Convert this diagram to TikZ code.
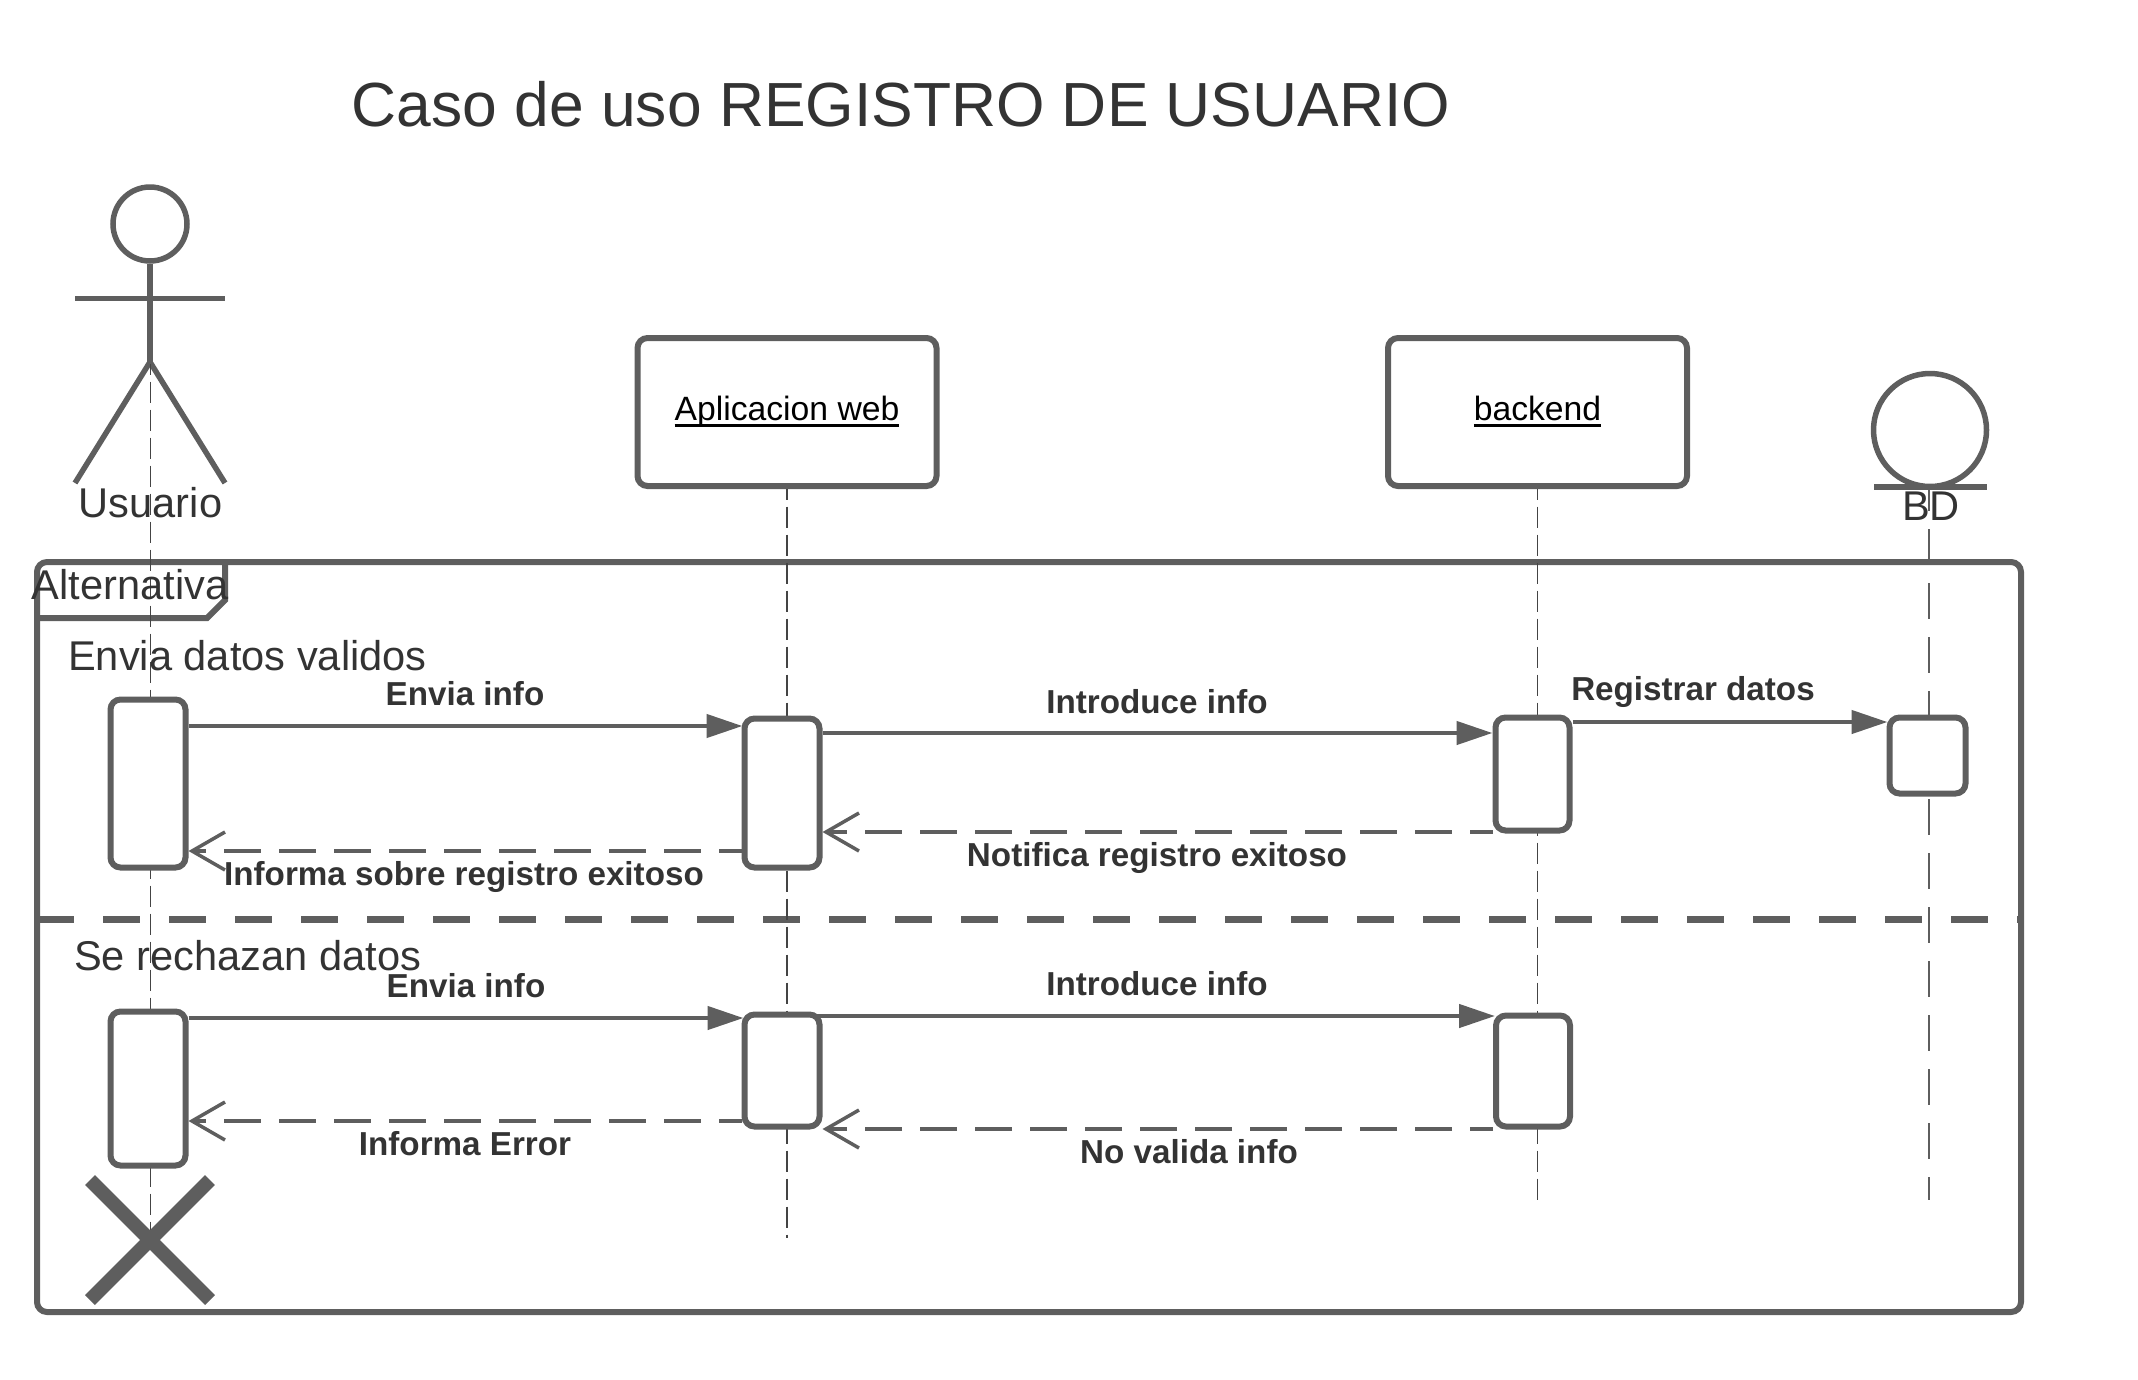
\documentclass[tikz,border=0pt]{standalone}
\usepackage{fontspec}
\setmainfont{Liberation Sans}
\usetikzlibrary{positioning,arrows.meta,calc}
\definecolor{linegray}{HTML}{5E5E5E}
\definecolor{textgray}{HTML}{333333}
\definecolor{lifegray}{HTML}{444444}
\newcommand{\linedtext}[1]{\setbox0=\hbox{#1}\rlap{\rule[-6.5pt]{\wd0}{3pt}}\box0}
\tikzset{
  shape line/.style={draw=linegray, line width=6pt},
  actor line/.style={draw=linegray, line width=5.5pt},
  bar/.style={shape line, fill=white, rectangle, rounded corners=10pt, inner sep=0pt},
  objbox/.style={shape line, rectangle, rounded corners=10pt, inner sep=0pt, minimum width=299pt, minimum height=148pt, text height=25pt, text depth=8pt, font=\fontsize{33.7}{40}\selectfont, text=black},
  lifeline/.style={draw=lifegray, line width=1.1pt, dash pattern=on 21pt off 7pt, dash phase=10.5pt},
  msg/.style={draw=linegray, line width=4.5pt, -{Triangle[length=36pt,width=23pt]}},
  reply/.style={draw=linegray, line width=4.5pt, dash pattern=on 37pt off 18pt, dash phase=14pt, -{Straight Barb[length=33pt,width=38pt,line width=3.5pt]}},
  msgtext/.style={anchor=base, inner sep=0pt, text=textgray, font=\fontsize{33.2}{40}\selectfont\bfseries},
  bigtext/.style={anchor=base, inner sep=0pt, text=textgray, font=\fontsize{41.6}{50}\selectfont},
}
\begin{document}
\begin{tikzpicture}[x=1pt, y=-1pt]
\useasboundingbox (0,0) rectangle (2138,1379);
% ---- title ----
\node[anchor=base west, inner sep=0pt, text=textgray, font=\fontsize{62.35}{70}\selectfont] (title) at (351.5,126) {Caso de uso REGISTRO DE USUARIO};
% ---- frame with its tab and divider ----
\node[shape line, rectangle, rounded corners=10pt, inner sep=0pt, minimum width=1984pt, minimum height=750pt] (alt) at (1029,937) {};
\draw[shape line] (225,562) -- (225,600) -- (207,618) -- (37,618);
\draw[draw=linegray, line width=7pt, dash pattern=on 37pt off 29pt] (37,919) -- (2021,919);
% ---- actor ----
\node[actor line, circle, inner sep=0pt, minimum size=74pt] (head) at (150,224) {};
\coordinate (hip) at (150,362);
\coordinate (cross) at (150.5,1240);
\draw[actor line] (head.south) -- (hip);
\draw[actor line] (75,298.5) -- (225,298.5);
\draw[actor line, line join=round] (75,483) -- (hip) -- (225,483);
% ---- objects ----
\node[objbox] (web) at (787,412) {\linedtext{Aplicacion web}};
\node[objbox] (back) at (1537.5,412) {\linedtext{backend}};
\node[actor line, circle, inner sep=0pt, minimum size=113pt] (ent) at (1930,430) {};
\draw[shape line] (1874,487) -- (1987,487);
% ---- lifelines ----
\coordinate (usertop) at (150.5,364);
\coordinate (webend) at (787,1238);
\coordinate (backend) at (1537.5,1200);
\coordinate (entstart) at (1929,490);
\coordinate (entend) at (1929,1200);
\draw[lifeline] (usertop) -- (cross);
\draw[lifeline] (web.south) -- (webend);
\draw[lifeline] (back.south) -- (backend);
\draw[draw=linegray, line width=2.6pt, dash pattern=on 36pt off 18pt, dash phase=15pt] (entstart) -- (entend);
% ---- activation bars ----
\node[bar, minimum width=75pt, minimum height=168pt] (actA) at (148,783.5) {};
\node[bar, minimum width=75pt, minimum height=149pt] (actB) at (782,793) {};
\node[bar, minimum width=74pt, minimum height=113pt] (actC) at (1532.5,774) {};
\node[bar, minimum width=76pt, minimum height=76pt] (actD) at (1927.5,755.5) {};
\node[bar, minimum width=75pt, minimum height=154pt] (actE) at (148,1088.5) {};
\node[bar, minimum width=75pt, minimum height=112pt] (actF) at (782,1070.5) {};
\node[bar, minimum width=74pt, minimum height=111pt] (actG) at (1533,1071) {};
% destroy mark
\draw[draw=linegray, line width=14pt] (90,1180) -- (210,1300);
\draw[draw=linegray, line width=14pt] (210,1180) -- (90,1300);
% ---- valid data messages ----
\draw[msg, shorten >=-1pt] (actA.east |- 0,726) -- (actB.west |- 0,726);
\draw[msg] (actB.east |- 0,733) -- (actC.west |- 0,733);
\draw[msg, shorten >=-1pt] (actC.east |- 0,722) -- (actD.west |- 0,722);
\draw[reply] (actC.west |- 0,832) -- (actB.east |- 0,832);
\draw[reply] (actB.west |- 0,851) -- (actA.east |- 0,851);
% ---- rejected data messages ----
\draw[msg, shorten >=-2pt] (actE.east |- 0,1018) -- (actF.west |- 0,1018);
\draw[msg, shorten <=33pt, shorten >=-2pt] (actF.center |- 0,1016) -- (actG.west |- 0,1016);
\draw[reply] (actG.west |- 0,1129) -- (actF.east |- 0,1129);
\draw[reply] (actF.west |- 0,1121) -- (actE.east |- 0,1121);
% ---- texts ----
\node[bigtext] (usuario) at (150.5,517) {Usuario};
\node[bigtext] (bd) at (1931,520) {BD};
\node[bigtext] (alttext) at (130,599) {Alternativa};
\node[bigtext, anchor=base west] (validos) at (68,670) {Envia datos validos};
\node[bigtext, anchor=base west] (rechazo) at (74,970) {Se rechazan datos};
\node[msgtext] (infoA) at (465,705) {Envia info};
\node[msgtext] (introA) at (1157,713) {Introduce info};
\node[msgtext] (regis) at (1693,700) {Registrar datos};
\node[msgtext] (notif) at (1157,866) {Notifica registro exitoso};
\node[msgtext] (exito) at (464,885) {Informa sobre registro exitoso};
\node[msgtext] (infoB) at (466,997) {Envia info};
\node[msgtext] (introB) at (1157,995) {Introduce info};
\node[msgtext] (novalida) at (1189,1163) {No valida info};
\node[msgtext] (error) at (465,1155) {Informa Error};
\end{tikzpicture}
\end{document}
